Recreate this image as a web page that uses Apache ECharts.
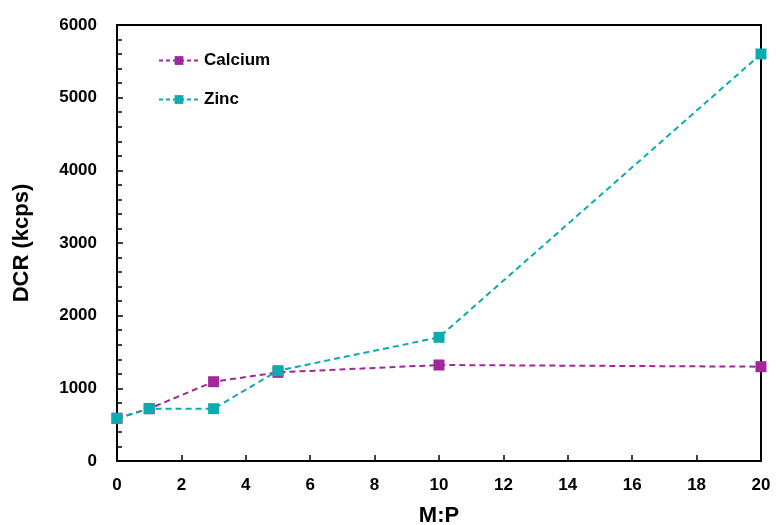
<!DOCTYPE html>
<html>
<head>
<meta charset="utf-8">
<script src="https://cdn.jsdelivr.net/npm/echarts@6/dist/echarts.min.js"></script>
<style>html,body{margin:0;padding:0;background:#fff}#c{width:776px;height:525px}</style>
</head>
<body>
<div id="c"></div>
<script>
const xValues = [0, 1, 3, 5, 10, 20];
const calcium = [588, 720, 1091, 1220, 1321, 1298];
const zinc = [588, 720, 720, 1243, 1702, 5601];
const xTitle = 'M:P';
const yTitle = 'DCR (kcps)';
const seriesNames = ['Calcium', 'Zinc'];
const colors = ['#a0289a', '#0aacb0'];

const font = '"Liberation Sans", Arial, sans-serif';
const chart = echarts.init(document.getElementById('c'));
const mk = (vals) => xValues.map((x, i) => [x, vals[i]]);
chart.setOption({
  animation: false,
  grid: { left: 117, right: 15, top: 25, bottom: 64, show: true, borderColor: '#000', borderWidth: 2,
          containLabel: false, outerBoundsMode: 'none' },
  legend: {
    left: 153, top: 47, orient: 'vertical', itemGap: 22, itemWidth: 40, itemHeight: 11,
    textStyle: { fontFamily: font, fontWeight: 'bold', fontSize: 17, color: '#000' },
    lineStyle: { width: 2, type: [4, 3] },
    data: seriesNames
  },
  xAxis: {
    type: 'value', min: 0, max: 20, interval: 2,
    name: xTitle, nameLocation: 'middle', nameGap: 44,
    nameTextStyle: { fontFamily: font, fontWeight: 'bold', fontSize: 22, color: '#000' },
    axisLine: { lineStyle: { color: '#000', width: 2 } },
    axisTick: { inside: true, length: 6, lineStyle: { color: '#000', width: 1.5 } },
    axisLabel: { fontFamily: font, fontWeight: 'bold', fontSize: 17, color: '#000', margin: 16 },
    splitLine: { show: false }
  },
  yAxis: {
    type: 'value', min: 0, max: 6000, interval: 1000,
    name: yTitle, nameLocation: 'middle', nameGap: 84,
    nameTextStyle: { fontFamily: font, fontWeight: 'bold', fontSize: 22, color: '#000' },
    axisLine: { lineStyle: { color: '#000', width: 2 } },
    axisTick: { inside: true, length: 6, lineStyle: { color: '#000', width: 1.5 } },
    minorTick: { show: true, splitNumber: 5, length: 5, lineStyle: { color: '#000', width: 1.5 } },
    axisLabel: { fontFamily: font, fontWeight: 'bold', fontSize: 17, color: '#000', margin: 20,
                 formatter: (v) => String(v) },
    splitLine: { show: false }
  },
  series: [
    {
      name: seriesNames[0], type: 'line', data: mk(calcium), symbol: 'rect', symbolSize: 11,
      itemStyle: { color: colors[0] },
      lineStyle: { color: colors[0], width: 2, type: [6, 4] }
    },
    {
      name: seriesNames[1], type: 'line', data: mk(zinc), symbol: 'rect', symbolSize: 11,
      itemStyle: { color: colors[1] },
      lineStyle: { color: colors[1], width: 2, type: [6, 4] }
    }
  ]
});
</script>
</body>
</html>
